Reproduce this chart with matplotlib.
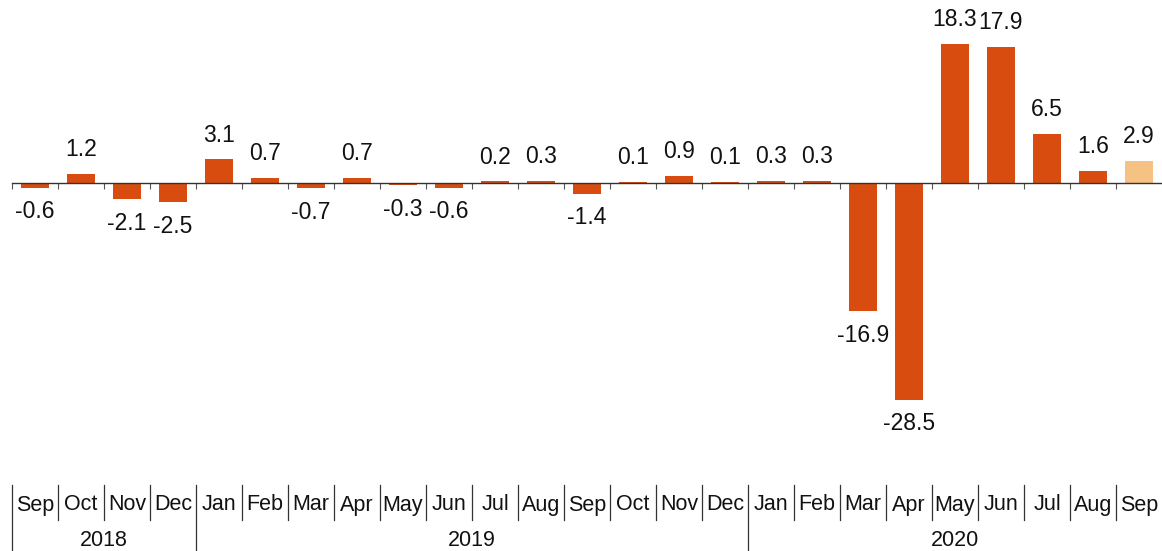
import matplotlib.pyplot as plt
import matplotlib.transforms as mtransforms

plt.rcParams['font.family'] = ['Liberation Sans', 'DejaVu Sans']

# Month-on-month change, Sep 2018 - Sep 2020
months = ['Sep', 'Oct', 'Nov', 'Dec',
          'Jan', 'Feb', 'Mar', 'Apr', 'May', 'Jun', 'Jul', 'Aug', 'Sep', 'Oct', 'Nov', 'Dec',
          'Jan', 'Feb', 'Mar', 'Apr', 'May', 'Jun', 'Jul', 'Aug', 'Sep']
values = [-0.6, 1.2, -2.1, -2.5,
          3.1, 0.7, -0.7, 0.7, -0.3, -0.6, 0.2, 0.3, -1.4, 0.1, 0.9, 0.1,
          0.3, 0.3, -16.9, -28.5, 18.3, 17.9, 6.5, 1.6, 2.9]
years = ['2018', '2019', '2020']
year_counts = [4, 12, 9]

main_color = '#D84C0F'
last_color = '#F5C283'
colors = [main_color] * (len(values) - 1) + [last_color]

W, H = 1162, 551
fig = plt.figure(figsize=(W / 100, H / 100), dpi=100)

# axes spans from top of image to y=470 px; zero line at y=183 px, 7.6 px per unit
ax_bottom_px = 470
ax = fig.add_axes([12 / W, (H - ax_bottom_px) / H, 1150 / W, ax_bottom_px / H])
px_per_unit = 7.6
ax.set_ylim(-(ax_bottom_px - 183) / px_per_unit, 183 / px_per_unit)
ax.set_xlim(0, len(values))

xs = [i + 0.5 for i in range(len(values))]
ax.bar(xs, values, width=0.59, color=colors, zorder=2)

for x, v in zip(xs, values):
    off = 17.5 if v >= 0 else -17.5
    ax.annotate(f'{v:.1f}', (x, v), xytext=(0, off), textcoords='offset points',
                ha='center', va='center', fontsize=16.5, color='#111111')

for s in ['top', 'right', 'left']:
    ax.spines[s].set_visible(False)
ax.spines['bottom'].set_position(('data', 0))
ax.spines['bottom'].set_color('#333333')
ax.spines['bottom'].set_linewidth(1.0)
ax.set_xticks(range(len(values)))
ax.tick_params(axis='x', direction='out', length=4, color='#555555', labelbottom=False)
ax.set_yticks([])

# category labels below the plot
trans = mtransforms.blended_transform_factory(ax.transData, fig.transFigure)
month_y = 1 - 505 / H
year_y = 1 - 540 / H
for x, m in zip(xs, months):
    ax.text(x, month_y, m, transform=trans, ha='center', va='center', fontsize=15.5, color='#111111')

year_starts = [0]
for c in year_counts[:-1]:
    year_starts.append(year_starts[-1] + c)
for i in range(len(values)):
    bottom = 0 if i in year_starts else 1 - 520 / H
    ax.plot([i, i], [1 - 485 / H, bottom], transform=trans, color='#333333', lw=0.9, clip_on=False)

for y, start, c in zip(years, year_starts, year_counts):
    ax.text(start + c / 2, year_y, y, transform=trans, ha='center', va='center', fontsize=15.5, color='#111111')

fig.savefig('out.png', dpi=100)
